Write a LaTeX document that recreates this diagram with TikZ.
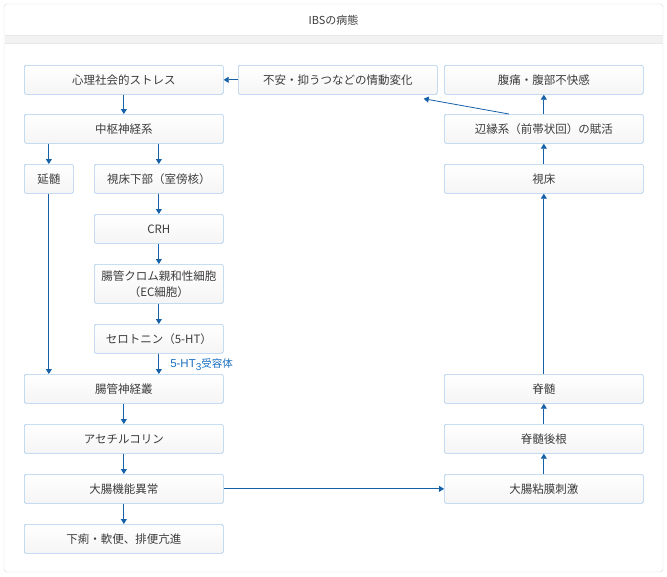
\documentclass[tikz,border=0pt]{standalone}
\usepackage{fontspec}
\setmainfont{Liberation Sans}
\newfontfamily\cjk{Noto Sans CJK JP}
\usetikzlibrary{arrows.meta}
\definecolor{boxline}{HTML}{A8CBEC}
\definecolor{flowblue}{HTML}{1660A8}
\definecolor{labelblue}{HTML}{1A70C0}
\definecolor{textgray}{HTML}{3C3C3C}

\begin{document}
\begin{tikzpicture}[x=1pt,y=-1pt,
  box/.style={draw=boxline,line width=0.7pt,rounded corners=1.5pt,top color=white,bottom color=gray!8,
    text=textgray,font=\cjk\fontsize{11.5}{16}\selectfont,inner sep=0pt,anchor=north west,align=center,
    minimum height=29pt},
  wide/.style={box,minimum width=199pt},
  mid/.style={box,minimum width=129pt},
  small/.style={box,minimum width=49pt},
  flow/.style={draw=flowblue,line width=0.8pt,-{Triangle[length=5pt,width=6pt]}}]
\useasboundingbox (0,0) rectangle (667,576);
\fill[white] (0,0) rectangle (667,576);
\draw[gray!30,fill=white,rounded corners=3pt] (4,4) rectangle (663,572);
\fill[gray!10] (4.5,35) rectangle (662.5,43);
\draw[gray!18] (4.5,35) -- (662.5,35) (4.5,43) -- (662.5,43);
\node[text=textgray,font=\cjk\fontsize{11}{13}\selectfont] (title) at (333.5,20) {IBSの病態};

\node[wide] (stress) at (24,65) {心理社会的ストレス};
\node[wide] (emotion) at (238,65) {不安・抑うつなどの情動変化};
\node[wide] (pain) at (444,65) {腹痛・腹部不快感};
\node[wide] (cns) at (24,114) {中枢神経系};
\node[wide] (limbic) at (444,114) {辺縁系（前帯状回）の賦活};
\node[small] (medulla) at (24,164) {延髄};
\node[mid] (hypo) at (94,164) {視床下部（室傍核）};
\node[wide] (thalamus) at (444,164) {視床};
\node[mid] (crh) at (94,214) {CRH};
\node[mid,minimum height=39pt] (ec) at (94,264) {腸管クロム親和性細胞\\（EC細胞）};
\node[mid] (sero) at (94,324) {セロトニン（5-HT）};
\node[wide] (plexus) at (24,374) {腸管神経叢};
\node[wide] (spine) at (444,374) {脊髄};
\node[wide] (ach) at (24,424) {アセチルコリン};
\node[wide] (root) at (444,424) {脊髄後根};
\node[wide] (colon) at (24,474) {大腸機能異常};
\node[wide] (mucosa) at (444,474) {大腸粘膜刺激};
\node[wide] (diarrhea) at (24,524) {下痢・軟便、排便亢進};

\draw[flow] (emotion) -- (stress);
\draw[flow] (stress) -- (cns);
\draw[flow] (cns.south -| medulla) -- (medulla);
\draw[flow] (cns.south -| hypo) -- (hypo);
\draw[flow] (medulla) -- (medulla |- plexus.north);
\draw[flow] (hypo) -- (crh);
\draw[flow] (crh) -- (ec);
\draw[flow] (ec) -- (sero);
\draw[flow] (sero) -- (sero |- plexus.north) node[midway,anchor=west,xshift=11pt,yshift=-1pt,inner sep=0pt,text=labelblue,font=\fontsize{11.5}{10}\selectfont] (receptor) {5-HT\raisebox{-3.5pt}{\fontsize{10}{10}\selectfont 3}{\cjk\fontsize{10.5}{10}\selectfont 受容体}};
\draw[flow] (plexus) -- (ach);
\draw[flow] (ach) -- (colon);
\draw[flow] (colon) -- (diarrhea);
\draw[flow] (colon) -- (mucosa);
\draw[flow] (mucosa) -- (root);
\draw[flow] (root) -- (spine);
\draw[flow] (spine) -- (thalamus);
\draw[flow] (thalamus) -- (limbic);
\draw[flow] (limbic) -- (pain);
\draw[flow] ([xshift=-35pt]limbic.north) -- ([xshift=-14pt,yshift=-4pt]emotion.south east);
\end{tikzpicture}
\end{document}
